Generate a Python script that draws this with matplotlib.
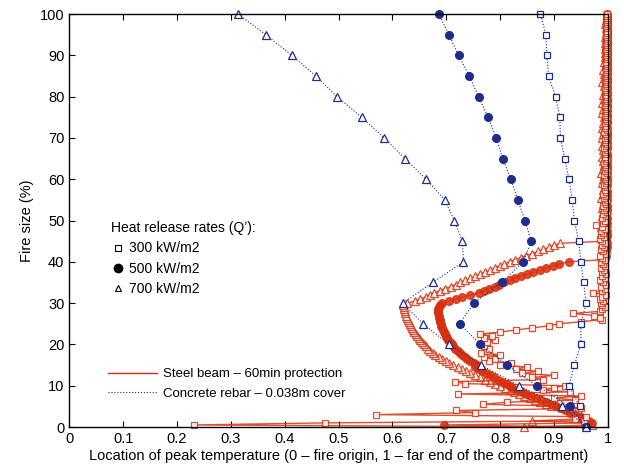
import numpy as np
import matplotlib
matplotlib.use("Agg")
import matplotlib.pyplot as plt
from matplotlib.lines import Line2D

plt.rcParams['font.family'] = ['Liberation Sans', 'DejaVu Sans']

# concrete rebar (0.038 m cover): one point every 5 % of fire size
rebar_size = [0, 5, 10, 15, 20, 25, 30, 35, 40, 45, 50,
              55, 60, 65, 70, 75, 80, 85, 90, 95, 100]
rebar_300 = [0.960, 0.948, 0.928, 0.938, 0.950, 0.950, 0.960, 0.955, 0.950, 0.946, 0.938,
             0.934, 0.928, 0.920, 0.912, 0.911, 0.903, 0.890, 0.887, 0.885, 0.875]
rebar_500 = [0.960, 0.929, 0.868, 0.813, 0.763, 0.725, 0.751, 0.803, 0.843, 0.858, 0.846,
             0.833, 0.820, 0.805, 0.793, 0.778, 0.760, 0.743, 0.723, 0.705, 0.686]
rebar_700 = [0.960, 0.915, 0.835, 0.765, 0.705, 0.657, 0.619, 0.675, 0.732, 0.730, 0.715,
             0.697, 0.663, 0.623, 0.585, 0.543, 0.497, 0.458, 0.413, 0.365, 0.313]

# steel beam (60 min protection): one point every 0.5 % of fire size
beam_size = np.arange(0, 100.5, 0.5)
beam_300 = [
    0.960, 0.231, 0.474, 0.955, 0.940, 0.960, 0.570, 0.753, 0.719, 0.950,
    0.930, 0.768, 0.812, 0.940, 0.900, 0.950, 0.722, 0.930, 0.880, 0.900,
    0.920, 0.734, 0.716, 0.880, 0.860, 0.900, 0.840, 0.870, 0.830, 0.850,
    0.800, 0.820, 0.780, 0.790, 0.770, 0.800, 0.765, 0.775, 0.780, 0.770,
    0.765, 0.775, 0.790, 0.770, 0.785, 0.762, 0.800, 0.830, 0.860, 0.890,
    0.910, 0.950, 0.990, 0.985, 0.975, 0.935, 0.985, 0.990, 0.995, 0.990,
    0.988, 0.992, 0.985, 0.990, 0.996, 0.973, 0.990, 0.994, 0.988, 0.996,
    0.992, 0.986, 0.994, 0.990, 0.997, 0.989, 0.993, 0.987, 0.995, 0.991,
    0.988, 0.994, 0.990, 0.986, 0.996, 0.991, 0.988, 0.993, 0.989, 0.994,
    0.990, 0.985, 0.993, 0.988, 0.992, 0.987, 0.994, 0.990, 0.979, 0.992,
    0.995, 0.990, 0.996, 0.992, 0.998, 0.993, 0.997, 0.991, 0.996, 0.994,
    0.998, 0.993, 0.996, 0.992, 0.997, 0.995, 0.999, 0.993, 0.996, 0.998,
    0.994, 0.997, 0.993, 0.998, 0.995, 0.999, 0.994, 0.997, 0.993, 0.996,
    0.998, 0.994, 0.997, 0.995, 0.999, 0.993, 0.996, 0.998, 0.994, 0.997,
    0.995, 0.999, 0.996, 0.993, 0.998, 0.995, 0.997, 0.994, 0.999, 0.996,
    0.998, 0.995, 0.997, 0.999, 0.996, 0.998, 0.995, 0.997, 0.999, 0.996,
    0.998, 0.996, 0.999, 0.997, 0.995, 0.998, 0.996, 0.999, 0.997, 0.998,
    0.996, 0.999, 0.997, 0.998, 0.996, 0.999, 0.998, 0.997, 0.999, 0.998,
    0.997, 0.999, 0.998, 0.996, 0.999, 0.998, 0.997, 0.999, 0.998, 0.999,
    0.997, 0.999, 0.998, 0.999, 0.997, 0.999, 0.998, 0.999, 0.998, 0.999,
    0.999,
]
beam_500 = [
    0.960, 0.695, 0.970, 0.965, 0.955, 0.950, 0.940, 0.930, 0.920, 0.912,
    0.903, 0.894, 0.885, 0.876, 0.867, 0.858, 0.849, 0.840, 0.831, 0.823,
    0.818, 0.811, 0.804, 0.797, 0.789, 0.781, 0.774, 0.767, 0.760, 0.754,
    0.757, 0.751, 0.745, 0.739, 0.734, 0.729, 0.725, 0.721, 0.717, 0.713,
    0.710, 0.707, 0.704, 0.702, 0.700, 0.698, 0.696, 0.694, 0.692, 0.691,
    0.690, 0.689, 0.688, 0.687, 0.686, 0.685, 0.685, 0.685, 0.686, 0.688,
    0.692, 0.705, 0.718, 0.730, 0.745, 0.760, 0.770, 0.780, 0.790, 0.798,
    0.808, 0.818, 0.828, 0.838, 0.850, 0.862, 0.874, 0.886, 0.898, 0.910,
    0.928, 0.990, 0.994, 0.996, 0.992, 0.997, 0.993, 0.998, 0.995, 0.999,
    0.994, 0.997, 0.993, 0.998, 0.995, 0.999, 0.994, 0.997, 0.995, 0.998,
    0.996, 0.999, 0.995, 0.997, 0.994, 0.998, 0.996, 0.999, 0.995, 0.997,
    0.998, 0.995, 0.999, 0.996, 0.998, 0.994, 0.997, 0.999, 0.996, 0.998,
    0.995, 0.999, 0.997, 0.998, 0.996, 0.999, 0.995, 0.998, 0.997, 0.999,
    0.996, 0.998, 0.999, 0.997, 0.995, 0.998, 0.999, 0.996, 0.998, 0.997,
    0.999, 0.996, 0.998, 0.999, 0.997, 0.998, 0.996, 0.999, 0.998, 0.997,
    0.999, 0.998, 0.996, 0.999, 0.997, 0.998, 0.999, 0.997, 0.998, 0.999,
    0.997, 0.999, 0.998, 0.996, 0.999, 0.998, 0.997, 0.999, 0.998, 0.999,
    0.997, 0.999, 0.998, 0.999, 0.997, 0.998, 0.999, 0.998, 0.999, 0.997,
    0.999, 0.998, 0.999, 0.997, 0.999, 0.998, 0.999, 0.998, 0.999, 0.998,
    0.999, 0.998, 0.999, 0.999, 0.998, 0.999, 0.998, 0.999, 0.999, 0.998,
    0.999,
]
beam_700 = [
    0.845, 0.970, 0.965, 0.860, 0.960, 0.950, 0.945, 0.940, 0.930, 0.920,
    0.895, 0.885, 0.874, 0.865, 0.855, 0.845, 0.835, 0.826, 0.818, 0.810,
    0.800, 0.790, 0.781, 0.772, 0.763, 0.754, 0.745, 0.737, 0.729, 0.721,
    0.713, 0.706, 0.699, 0.692, 0.686, 0.680, 0.675, 0.670, 0.666, 0.662,
    0.658, 0.655, 0.652, 0.649, 0.646, 0.643, 0.641, 0.639, 0.637, 0.635,
    0.633, 0.631, 0.629, 0.627, 0.626, 0.624, 0.623, 0.622, 0.621, 0.620,
    0.628, 0.642, 0.652, 0.662, 0.670, 0.678, 0.688, 0.698, 0.708, 0.718,
    0.725, 0.735, 0.745, 0.753, 0.762, 0.772, 0.781, 0.790, 0.799, 0.808,
    0.818, 0.827, 0.838, 0.848, 0.860, 0.870, 0.880, 0.891, 0.901, 0.912,
    0.995, 0.989, 0.997, 0.992, 0.999, 0.990, 0.996, 0.988, 0.995, 0.998,
    0.992, 0.997, 0.989, 0.996, 0.993, 0.999, 0.990, 0.996, 0.992, 0.998,
    0.993, 0.988, 0.996, 0.991, 0.997, 0.992, 0.999, 0.995, 0.989, 0.996,
    0.992, 0.998, 0.993, 0.988, 0.996, 0.991, 0.997, 0.993, 0.999, 0.992,
    0.996, 0.989, 0.995, 0.998, 0.992, 0.997, 0.990, 0.996, 0.993, 0.999,
    0.990, 0.996, 0.992, 0.998, 0.993, 0.989, 0.997, 0.992, 0.996, 0.999,
    0.993, 0.997, 0.990, 0.996, 0.992, 0.998, 0.995, 0.989, 0.996, 0.993,
    0.998, 0.992, 0.997, 0.995, 0.999, 0.993, 0.996, 0.990, 0.997, 0.995,
    0.999, 0.993, 0.997, 0.991, 0.998, 0.996, 0.999, 0.993, 0.997, 0.995,
    0.998, 0.995, 0.999, 0.994, 0.997, 0.998, 0.995, 0.999, 0.997, 0.994,
    0.998, 0.996, 0.999, 0.997, 0.998, 0.995, 0.999, 0.997, 0.998, 0.999,
    0.998,
]

red = '#d8300e'
blue = '#1c2d8c'

fig = plt.figure(figsize=(6.24, 4.72), dpi=100)
ax = fig.add_axes([0.111, 0.0953, 0.863, 0.875])

# steel beam curves (markers allowed to spill over the frame)
ax.plot(beam_700, beam_size, '-', color=red, lw=1.0, alpha=0.85, marker='^', ms=6,
        mfc='white', mec=red, mew=0.9, clip_on=False)
ax.plot(beam_500, beam_size, '-', color=red, lw=1.0, alpha=0.85, marker='o', ms=5.5,
        mfc=red, mec=red, clip_on=False)
ax.plot(beam_300, beam_size, '-', color=red, lw=1.0, alpha=0.85, marker='s', ms=4.8,
        mfc='white', mec=red, mew=0.9, clip_on=False)

# concrete rebar curves
ax.plot(rebar_300, rebar_size, ':', color=blue, lw=0.8, marker='s', ms=4.5,
        mfc='white', mec=blue, mew=0.9, clip_on=False)
ax.plot(rebar_500, rebar_size, ':', color=blue, lw=0.8, marker='o', ms=5.5,
        mfc=blue, mec=blue, clip_on=False)
ax.plot(rebar_700, rebar_size, ':', color=blue, lw=0.8, marker='^', ms=6,
        mfc='white', mec=blue, mew=0.9, clip_on=False)

ax.set_xlim(0, 1)
ax.set_ylim(0, 100)
ax.set_xticks(np.arange(0, 1.01, 0.1))
ax.set_xticklabels(['0', '0.1', '0.2', '0.3', '0.4', '0.5', '0.6', '0.7', '0.8', '0.9', '1'])
ax.set_yticks(np.arange(0, 101, 10))
ax.tick_params(direction='in', top=True, right=True, labelsize=10.5, length=4)
for s in ax.spines.values():
    s.set_linewidth(1.0)
ax.set_xlabel('Location of peak temperature (0 \u2013 fire origin, 1 \u2013 far end of the compartment)',
              fontsize=10.5, labelpad=2)
ax.set_ylabel('Fire size (%)', fontsize=10.5, labelpad=4)

# heat release legend (marker shapes only)
qh = [Line2D([], [], ls='none', marker='s', ms=4.5, mfc='white', mec='black', mew=0.8),
      Line2D([], [], ls='none', marker='o', ms=6, mfc='black', mec='black'),
      Line2D([], [], ls='none', marker='^', ms=5, mfc='white', mec='black', mew=0.8)]
leg1 = ax.legend(qh, ['300 kW/m2', '500 kW/m2', '700 kW/m2'], title='Heat release rates (Q\u2019):',
                 loc='upper left', bbox_to_anchor=(0.06, 0.522), frameon=False, fontsize=10,
                 title_fontsize=10, handlelength=1.0, handletextpad=0.3, labelspacing=0.45,
                 alignment='left', borderpad=0.2)
ax.add_artist(leg1)

mh = [Line2D([], [], ls='-', color=red, lw=1.0),
      Line2D([], [], ls=':', color=blue, lw=0.8)]
ax.legend(mh, ['Steel beam \u2013 60min protection', 'Concrete rebar \u2013 0.038m cover'],
          loc='upper left', bbox_to_anchor=(0.055, 0.165), frameon=False, fontsize=9.5,
          handlelength=3.7, handletextpad=0.45, labelspacing=0.55, borderpad=0.2)

fig.savefig('out.png', dpi=100)
